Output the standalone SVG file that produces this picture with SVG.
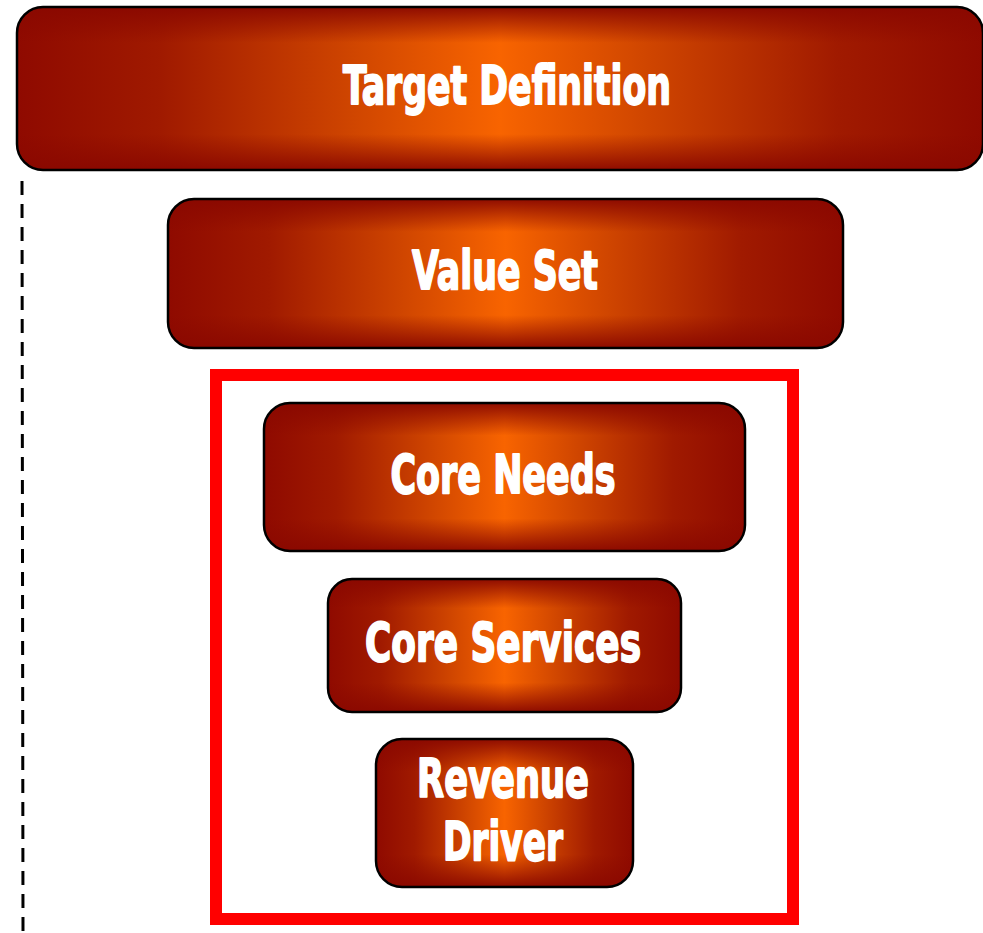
<svg xmlns="http://www.w3.org/2000/svg" width="983" height="933" viewBox="0 0 983 933">
  <style>
    .box-fill { fill: url(#gradH); }
    .box-shade { fill: url(#gradV); stroke: #000; stroke-width: 2.5; }
    .label { font-family: "Liberation Sans Narrow", "DejaVu Sans Condensed", "Liberation Sans", sans-serif; font-weight: bold; fill: #fff; stroke: #fff; stroke-width: 1.8; stroke-linejoin: round; text-anchor: middle; }
    .frame { fill: none; stroke: #ff0000; stroke-width: 12; }
    .divider { fill: none; stroke: #000; stroke-width: 3; stroke-dasharray: 14 9; }
  </style>
  <defs>
    <linearGradient id="gradH" x1="0" y1="0" x2="1" y2="0">
      <stop offset="0" stop-color="#8f0a00"/>
      <stop offset="0.15" stop-color="#a01a00"/>
      <stop offset="0.35" stop-color="#d04600"/>
      <stop offset="0.5" stop-color="#f86400"/>
      <stop offset="0.65" stop-color="#d04600"/>
      <stop offset="0.85" stop-color="#a01a00"/>
      <stop offset="1" stop-color="#8f0a00"/>
    </linearGradient>
    <linearGradient id="gradV" x1="0" y1="0" x2="0" y2="1">
      <stop offset="0" stop-color="#8a0800" stop-opacity="0.95"/>
      <stop offset="0.22" stop-color="#8a0800" stop-opacity="0"/>
      <stop offset="0.78" stop-color="#8a0800" stop-opacity="0"/>
      <stop offset="1" stop-color="#8a0800" stop-opacity="0.95"/>
    </linearGradient>
  </defs>

  <!-- left dashed guide -->
  <g id="connectors">
    <line class="divider" x1="22" y1="181" x2="23" y2="933"/>
  </g>

  <!-- highlight frame round the lower three tiers -->
  <rect id="focus-frame" class="frame" x="216" y="375" width="577" height="544"/>

  <g id="target-definition">
    <rect class="box-fill" x="17" y="7" width="966" height="163" rx="26"/>
    <rect class="box-shade" x="17" y="7" width="966" height="163" rx="26"/>
    <text class="label" x="507" y="104" font-size="53" textLength="328" lengthAdjust="spacingAndGlyphs">Target Definition</text>
  </g>

  <g id="value-set">
    <rect class="box-fill" x="168" y="199" width="675" height="149" rx="26"/>
    <rect class="box-shade" x="168" y="199" width="675" height="149" rx="26"/>
    <text class="label" x="505" y="289" font-size="53" textLength="186" lengthAdjust="spacingAndGlyphs">Value Set</text>
  </g>

  <g id="core-needs">
    <rect class="box-fill" x="264" y="403" width="481" height="148" rx="26"/>
    <rect class="box-shade" x="264" y="403" width="481" height="148" rx="26"/>
    <text class="label" x="503" y="493" font-size="53" textLength="225" lengthAdjust="spacingAndGlyphs">Core Needs</text>
  </g>

  <g id="core-services">
    <rect class="box-fill" x="328" y="579" width="353" height="133" rx="24"/>
    <rect class="box-shade" x="328" y="579" width="353" height="133" rx="24"/>
    <text class="label" x="503" y="661" font-size="53" textLength="276" lengthAdjust="spacingAndGlyphs">Core Services</text>
  </g>

  <g id="revenue-driver">
    <rect class="box-fill" x="376" y="739" width="257" height="148" rx="26"/>
    <rect class="box-shade" x="376" y="739" width="257" height="148" rx="26"/>
    <text class="label" x="503" y="797" font-size="53" textLength="172" lengthAdjust="spacingAndGlyphs">Revenue</text>
    <text class="label" x="503" y="860" font-size="53" textLength="120" lengthAdjust="spacingAndGlyphs">Driver</text>
  </g>
</svg>
